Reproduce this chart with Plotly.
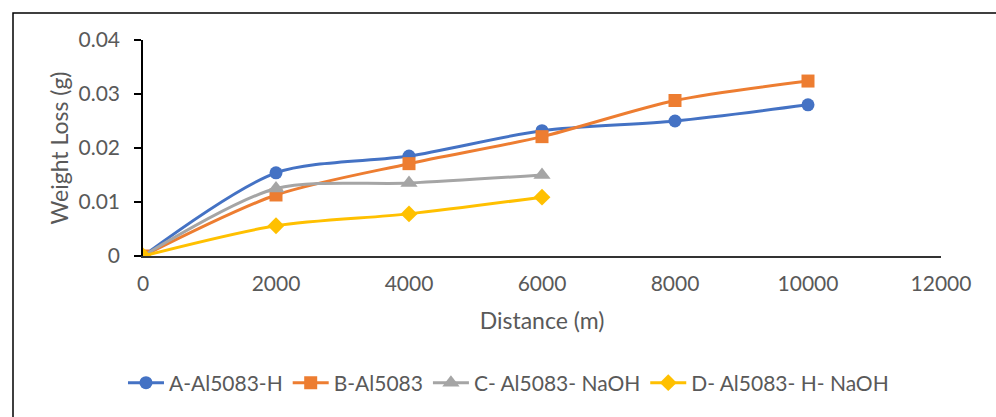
import plotly.graph_objects as go

distance_a = [0, 2000, 4000, 6000, 8000, 10000]
loss_a = [0, 0.0154, 0.0185, 0.0232, 0.0250, 0.0280]
distance_b = [0, 2000, 4000, 6000, 8000, 10000]
loss_b = [0, 0.0113, 0.0171, 0.0221, 0.0288, 0.0324]
distance_c = [0, 2000, 4000, 6000]
loss_c = [0, 0.0125, 0.0135, 0.0150]
distance_d = [0, 2000, 4000, 6000]
loss_d = [0, 0.0056, 0.0078, 0.0109]

x_ticks = [0, 2000, 4000, 6000, 8000, 10000, 12000]
x_ticklabels = ["0", "2000", "4000", "6000", "8000", "10000", "12000"]
y_ticks = [0, 0.01, 0.02, 0.03, 0.04]
y_ticklabels = ["0", "0.01", "0.02", "0.03", "0.04"]

names = ["A-Al5083-H", "B-Al5083", "C- Al5083- NaOH", "D- Al5083- H- NaOH"]
colors = ["#4472C4", "#ED7D31", "#A5A5A5", "#FFC000"]
symbols = ["circle", "square", "triangle-up", "diamond"]
sizes = [13, 13, 15, 13]

FONT = "Lato, 'Open Sans', sans-serif"
GREY = "#595959"

fig = go.Figure()
for xs, ys, n, c, s, sz in zip(
    [distance_a, distance_b, distance_c, distance_d],
    [loss_a, loss_b, loss_c, loss_d],
    names, colors, symbols, sizes,
):
    fig.add_trace(go.Scatter(
        x=xs, y=ys, name=n, mode="lines+markers",
        line=dict(color=c, width=3, shape="spline", smoothing=0.8),
        marker=dict(color=c, symbol=s, size=sz, line=dict(width=0)),
    ))

fig.update_layout(
    width=996, height=417,
    margin=dict(l=143, r=55, t=40, b=161),
    paper_bgcolor="white", plot_bgcolor="white",
    font=dict(family=FONT, size=21, color=GREY),
    showlegend=True,
    legend=dict(orientation="h", x=0.458, xanchor="center", y=-0.588, yanchor="middle",
                font=dict(size=21, color=GREY), itemwidth=36, traceorder="normal"),
    xaxis=dict(
        range=[0, 12000], tickvals=x_ticks, ticktext=x_ticklabels,
        showgrid=False, zeroline=False, showline=True, linecolor="#333333", linewidth=1.5,
        ticks="", ticklabelstandoff=8,
        tickfont=dict(size=21, color=GREY),
        title=dict(text="Distance (m)", font=dict(size=23, color=GREY), standoff=19),
    ),
    yaxis=dict(
        range=[0, 0.04], tickvals=y_ticks, ticktext=y_ticklabels,
        showgrid=False, zeroline=False, showline=True, linecolor="black", linewidth=1.5,
        ticks="outside", ticklen=7, tickcolor="black", tickwidth=1.5,
        ticklabelstandoff=10,
        tickfont=dict(size=21, color=GREY),
        title=dict(text="Weight Loss (g)", font=dict(size=23, color=GREY), standoff=3),
    ),
)

fig.add_shape(type="rect", xref="paper", yref="paper",
              x0=(13 - 143) / 798, x1=1.2, y0=-1.5, y1=(256 - 13) / 216,
              line=dict(color="black", width=1.5), fillcolor="rgba(0,0,0,0)", layer="below")

fig.write_html("out.html")
